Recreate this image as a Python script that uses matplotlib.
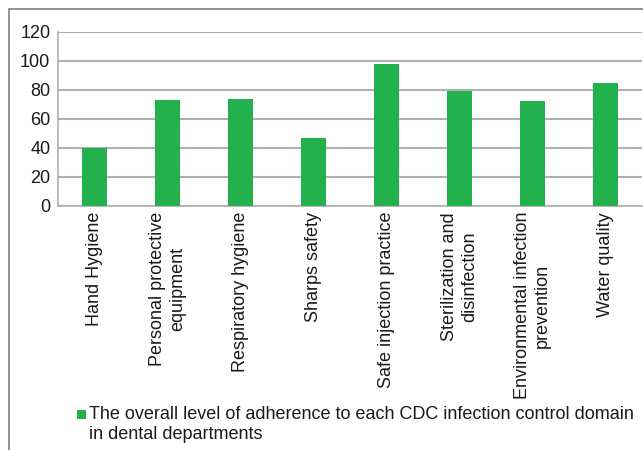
import matplotlib.pyplot as plt
from matplotlib.patches import Rectangle

plt.rcParams['font.family'] = ['Liberation Sans', 'DejaVu Sans']

# Adherence (%) to each CDC infection control domain
domains = [
    'Hand Hygiene',
    'Personal protective\nequipment',
    'Respiratory hygiene',
    'Sharps safety',
    'Safe injection practice',
    'Sterilization and\ndisinfection',
    'Environmental infection\nprevention',
    'Water quality',
]
adherence = [40, 73, 74, 47, 98, 79, 72, 85]
yticks = [0, 20, 40, 60, 80, 100, 120]
series_label = ('The overall level of adherence to each CDC infection control domain\n'
                'in dental departments')

bar_color = '#22B14C'
grid_color = '#b0b0b0'
fs = 13

fig = plt.figure(figsize=(6.43, 4.5), dpi=100)
ax = fig.add_axes([58 / 643, 1 - 205.7 / 450, 584 / 643, (205.7 - 32) / 450])

x = range(len(domains))
ax.bar(x, adherence, width=0.33, color=bar_color, zorder=3)

ax.set_xlim(-0.5, len(domains) - 0.5)
ax.set_ylim(0, 120)
ax.set_yticks(yticks)
ax.set_xticks(list(x))
ax.set_xticklabels(domains, rotation=90, ha='center', va='top',
                   multialignment='center', fontsize=fs)
ax.tick_params(axis='y', length=0, pad=5.5, labelsize=fs, labelcolor='#1a1a1a')
ax.tick_params(axis='x', length=0, pad=4.5, labelcolor='#1a1a1a')

ax.yaxis.grid(True, color=grid_color, linewidth=1.5, zorder=0)
for side in ['top', 'right']:
    ax.spines[side].set_visible(False)
for side in ['left', 'bottom']:
    ax.spines[side].set_color(grid_color)
    ax.spines[side].set_linewidth(1.2)

# legend: square key beside the first line of the series label
fig.patches.append(Rectangle((77 / 643, 1 - 419 / 450), 9 / 643, 9 / 450,
                             transform=fig.transFigure, facecolor=bar_color,
                             edgecolor='none'))
fig.text(89 / 643, 1 - 406 / 450, series_label, ha='left', va='top',
         fontsize=fs, color='#1a1a1a', linespacing=1.25)

# outer frame around the chart
fig.patches.append(Rectangle((9 / 643, -0.1), 1.0, 1.1 - 9 / 450,
                             transform=fig.transFigure, fill=False,
                             edgecolor='#808080', linewidth=1.2))

fig.savefig('out.png', dpi=100)
